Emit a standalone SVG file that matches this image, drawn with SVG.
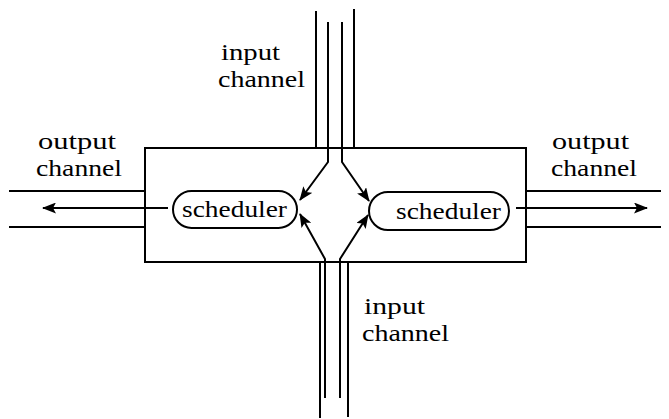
<svg xmlns="http://www.w3.org/2000/svg" width="669" height="419" viewBox="0 0 669 419">
<style>
.ln{stroke:#000;stroke-width:2;fill:none}
.bx{stroke:#000;stroke-width:2;fill:#fff}
.t{font-family:"Liberation Serif","Times New Roman",serif;font-size:23px;fill:#000}
</style>
<defs>
<marker id="ah" viewBox="0 0 14 11" refX="13" refY="5.5" markerWidth="14" markerHeight="11" markerUnits="userSpaceOnUse" orient="auto">
<path d="M0,0 L14,5.5 L0,11 L3,5.5 Z" fill="#000"/>
</marker>
</defs>
<g id="channels">
<path class="ln" d="M316,11 V148 M354,9 V148"/>
<path class="ln" d="M320,262 V418 M348,262 V417"/>
<path class="ln" d="M9,191 H145 M9,227 H145"/>
<path class="ln" d="M526,191 H661 M526,227 H661"/>
</g>
<g id="box">
<rect class="ln" x="145" y="148" width="381" height="114"/>
</g>
<g id="connectors">
<path class="ln" d="M328,22 V162 L300,200" marker-end="url(#ah)"/>
<path class="ln" d="M342,22 V162 L369,201" marker-end="url(#ah)"/>
<path class="ln" d="M325,398 V259 L300,214" marker-end="url(#ah)"/>
<path class="ln" d="M340,398 V259 L368,215" marker-end="url(#ah)"/>
<path class="ln" d="M168,208 H43" marker-end="url(#ah)"/>
<path class="ln" d="M516,208 H647" marker-end="url(#ah)"/>
</g>
<g id="scheduler-left">
<rect class="bx" x="173" y="191" width="124" height="37" rx="18.5"/>
<text class="t" x="182" y="217" textLength="105" lengthAdjust="spacingAndGlyphs">scheduler</text>
</g>
<g id="scheduler-right">
<rect class="bx" x="369" y="192" width="140" height="38" rx="19"/>
<text class="t" x="396" y="219" textLength="105" lengthAdjust="spacingAndGlyphs">scheduler</text>
</g>
<g id="label-top">
<text class="t" x="221" y="60" textLength="59" lengthAdjust="spacingAndGlyphs">input</text>
<text class="t" x="218" y="87" textLength="87" lengthAdjust="spacingAndGlyphs">channel</text>
</g>
<g id="label-bottom">
<text class="t" x="364" y="314" textLength="61" lengthAdjust="spacingAndGlyphs">input</text>
<text class="t" x="362" y="341" textLength="87" lengthAdjust="spacingAndGlyphs">channel</text>
</g>
<g id="label-left">
<text class="t" x="38" y="149" textLength="78" lengthAdjust="spacingAndGlyphs">output</text>
<text class="t" x="36" y="176" textLength="86" lengthAdjust="spacingAndGlyphs">channel</text>
</g>
<g id="label-right">
<text class="t" x="552" y="149" textLength="77" lengthAdjust="spacingAndGlyphs">output</text>
<text class="t" x="551" y="176" textLength="86" lengthAdjust="spacingAndGlyphs">channel</text>
</g>
</svg>
